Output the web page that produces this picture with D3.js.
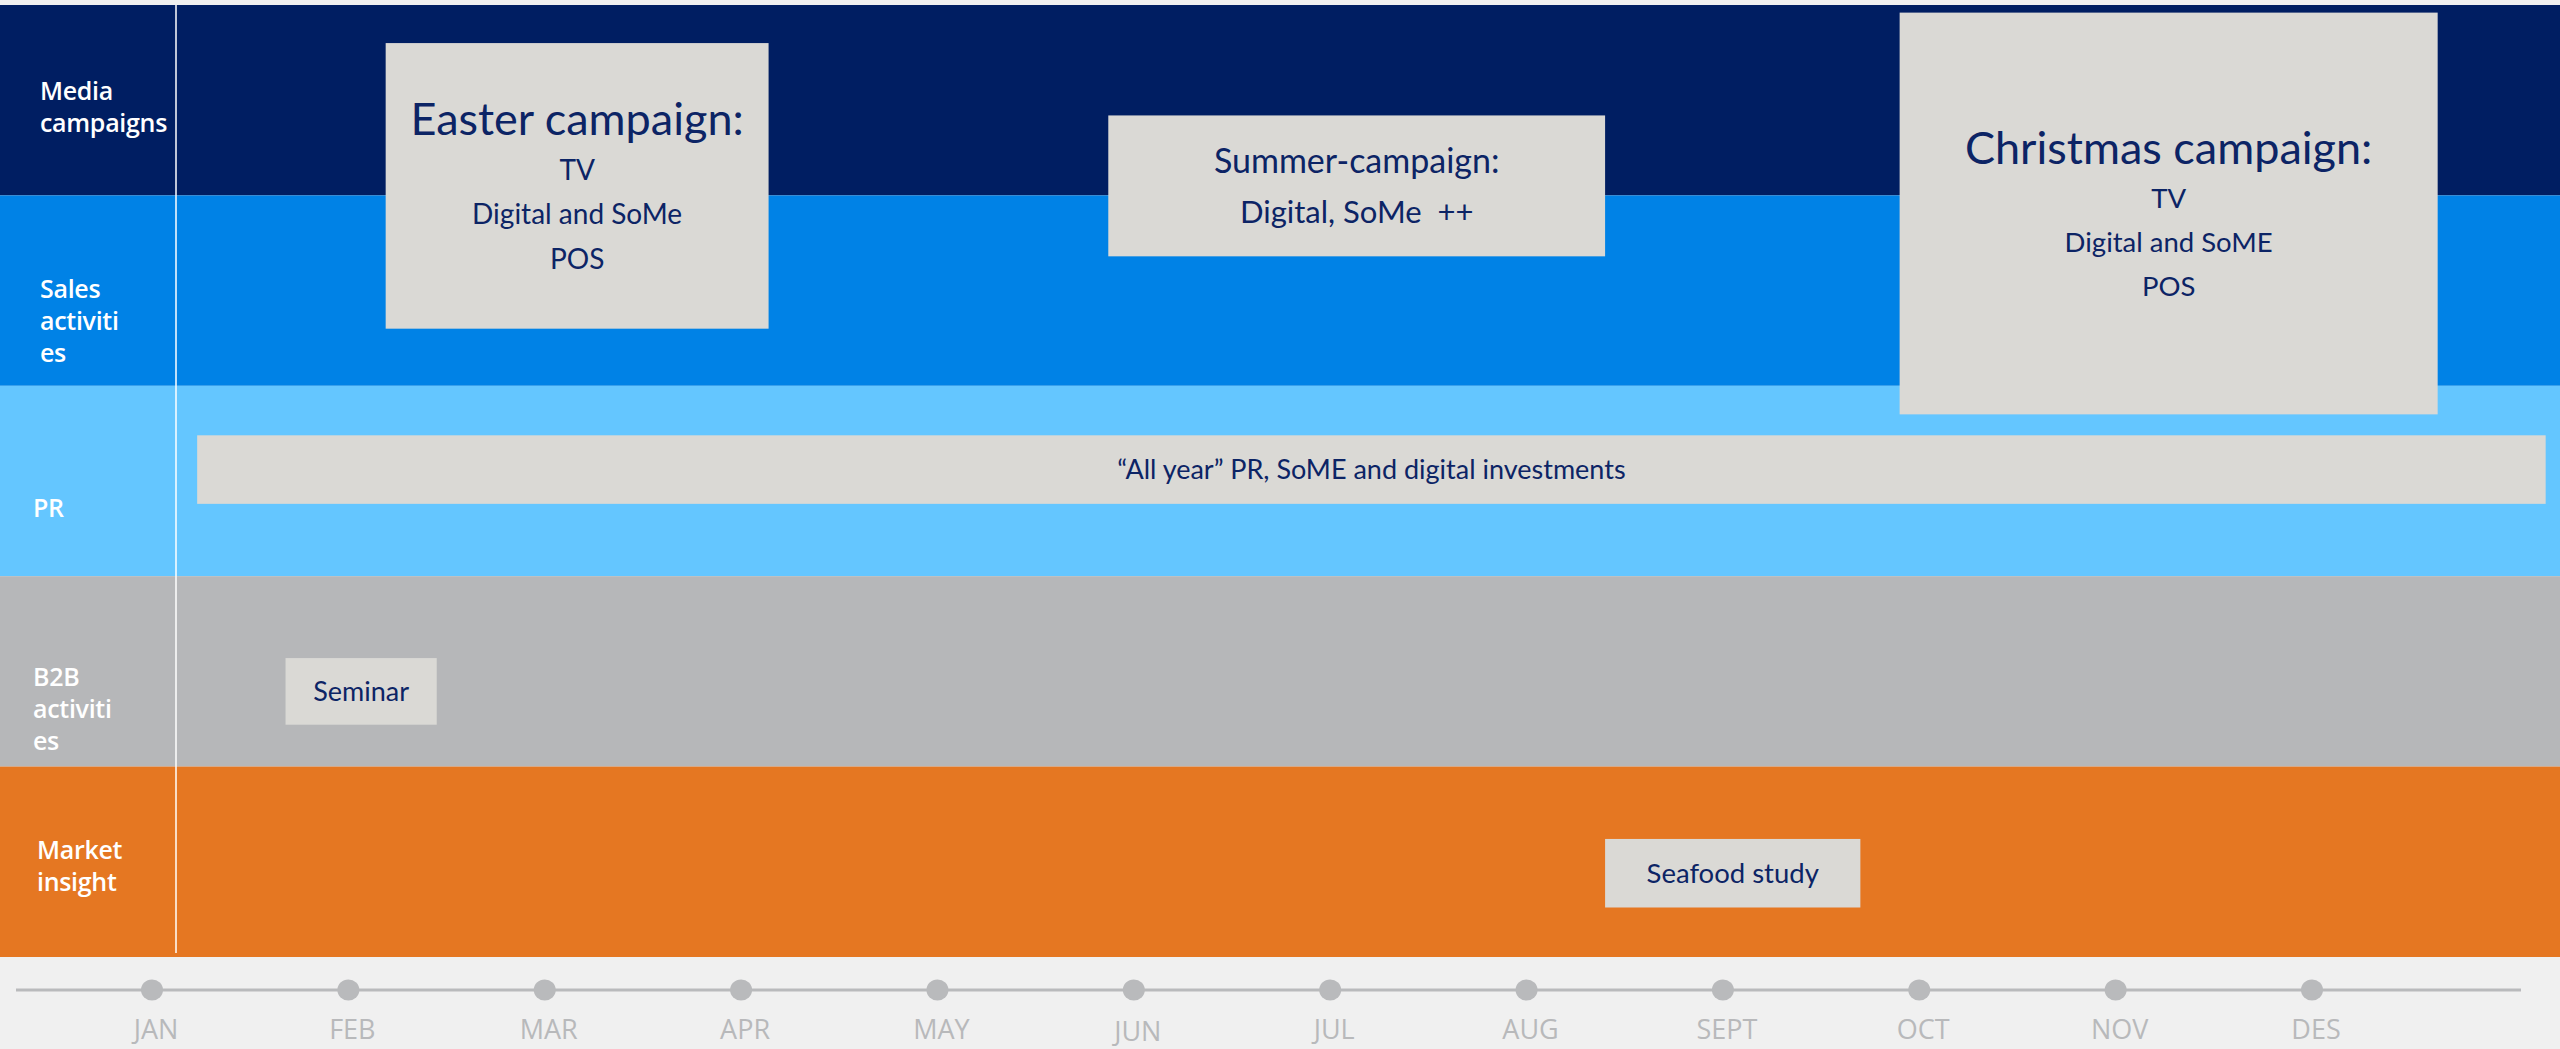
<!DOCTYPE html>
<html>
<head>
<meta charset="utf-8">
<script src="https://cdn.jsdelivr.net/npm/d3@7"></script>
<style>
    body { margin: 0; background: #f0f0f0; overflow: hidden; }
    svg { display: block; font-family: Lato, "Open Sans", sans-serif; }
</style>
</head>
<body>
<div id="chart"></div>
<script>
const width = 2560;
const height = 1049;
const marginTop = 5;
const plotBottom = 957;
const axisY = 990;

// rows of the plan
const rows = ["Media campaigns", "Sales activities", "PR", "B2B activities", "Market insight"];
const rowLabelLines = [["Media", "campaigns"], ["Sales", "activiti", "es"], ["PR"], ["B2B", "activiti", "es"], ["Market", "insight"]];
const rowColors = ["#001e62", "#0082e6", "#64c6ff", "#b6b7b9", "#e57722"];

// month ticks
const months = ["JAN", "FEB", "MAR", "APR", "MAY", "JUN", "JUL", "AUG", "SEPT", "OCT", "NOV", "DES"];

// activities: month index where each box starts / ends (0 = JAN)
const activityTitles = ["Easter campaign:", "Summer-campaign:", "Christmas campaign:", "\u201CAll year\u201D PR, SoME and digital investments", "Seminar", "Seafood study"];
const activityDetails = [["TV", "Digital and SoMe", "POS"], ["Digital, SoMe  ++"], ["TV", "Digital and SoME", "POS"], [], [], []];
const activityStart = [1.19, 4.87, 8.90, 0.23, 0.68, 7.40];
const activityEnd = [3.14, 7.40, 11.64, 12.19, 1.45, 8.70];

// layout of the boxes (row units) and text sizes
const boxRowFrom = [0.20, 0.58, 0.04, 2.26, 3.43, 4.38];
const boxRowTo = [1.70, 1.32, 2.15, 2.62, 3.78, 4.74];
const titleSize = [45, 34, 45, 27, 27, 27.5];
const detailSize = [28, 31, 27.5, 0, 0, 0];
const labelX = [40, 40, 33, 33, 37];
const labelDy = [95, 103, 131, 110, 92];

const svg = d3.select("#chart")
    .append("svg")
    .attr("width", width)
    .attr("height", height);

svg.append("rect")
    .attr("width", width)
    .attr("height", height)
    .attr("fill", "#f0f0f0");

const xScale = d3.scaleLinear()
    .domain([0, months.length - 1])
    .range([152, 2312]);

const monthScale = d3.scalePoint()
    .domain(months)
    .range(xScale.range());

const band = d3.scaleBand()
    .domain(rows)
    .range([marginTop, plotBottom]);

const yScale = d3.scaleLinear()
    .domain([0, rows.length])
    .range([marginTop, plotBottom]);

// row bands
svg.append("g")
    .selectAll("rect")
    .data(rows)
    .join("rect")
    .attr("x", 0)
    .attr("y", d => band(d))
    .attr("width", width)
    .attr("height", band.bandwidth())
    .attr("fill", (d, i) => rowColors[i]);

// divider between labels and plan
svg.append("line")
    .attr("x1", 176).attr("x2", 176)
    .attr("y1", marginTop).attr("y2", plotBottom - 4)
    .attr("stroke", "#ffffff")
    .attr("stroke-width", 1.5);

// row labels
const labels = svg.append("g")
    .selectAll("text")
    .data(rows)
    .join("text")
    .attr("x", (d, i) => labelX[i])
    .attr("y", (d, i) => band(d) + labelDy[i])
    .attr("fill", "#ffffff")
    .attr("font-family", "'Open Sans', sans-serif")
    .attr("font-size", 25)
    .attr("font-weight", 600)
    .attr("letter-spacing", -0.3);

labels.selectAll("tspan")
    .data((d, i) => rowLabelLines[i])
    .join("tspan")
    .attr("x", function () { return this.parentNode.getAttribute("x"); })
    .attr("dy", (d, j) => j === 0 ? 0 : 32)
    .text(d => d);

// activity boxes
const idx = d3.range(activityTitles.length);

const boxes = svg.append("g")
    .selectAll("g")
    .data(idx)
    .join("g");

boxes.append("rect")
    .attr("x", i => xScale(activityStart[i]))
    .attr("y", i => yScale(boxRowFrom[i]))
    .attr("width", i => xScale(activityEnd[i]) - xScale(activityStart[i]))
    .attr("height", i => yScale(boxRowTo[i]) - yScale(boxRowFrom[i]))
    .attr("fill", "#dad9d5");

boxes.each(function (i) {
    const g = d3.select(this);
    const cx = (xScale(activityStart[i]) + xScale(activityEnd[i])) / 2;
    const cy = (yScale(boxRowFrom[i]) + yScale(boxRowTo[i])) / 2;
    const gap = detailSize[i] * 1.6;
    const lines = [{ text: activityTitles[i], size: titleSize[i], base: 0 }];
    activityDetails[i].forEach((t, j) => {
        lines.push({ text: t, size: detailSize[i], base: gap * (j + 1) });
    });
    const top = -titleSize[i] * 0.72;
    const bottom = lines[lines.length - 1].base;
    const shift = cy - (top + bottom) / 2;

    g.selectAll("text")
        .data(lines)
        .join("text")
        .attr("x", cx)
        .attr("y", d => shift + d.base)
        .attr("text-anchor", "middle")
        .attr("font-size", d => d.size)
        .attr("fill", "#0c2465")
        .style("white-space", "pre")
        .text(d => d.text);
});

// timeline
svg.append("line")
    .attr("x1", 16).attr("x2", 2521)
    .attr("y1", axisY).attr("y2", axisY)
    .attr("stroke", "#b9babc")
    .attr("stroke-width", 3);

svg.append("g")
    .selectAll("ellipse")
    .data(months)
    .join("ellipse")
    .attr("cx", d => monthScale(d))
    .attr("cy", axisY)
    .attr("rx", 11)
    .attr("ry", 10.5)
    .attr("fill", "#b9babc");

svg.append("g")
    .selectAll("text")
    .data(months)
    .join("text")
    .attr("x", d => monthScale(d) + 4)
    .attr("y", d => d === "JUN" ? 1041 : 1039)
    .attr("text-anchor", "middle")
    .attr("font-family", "'Open Sans', sans-serif")
    .attr("font-size", 27)
    .attr("font-weight", 500)
    .attr("fill", "#b8b9bb")
    .text(d => d);
</script>
</body>
</html>
